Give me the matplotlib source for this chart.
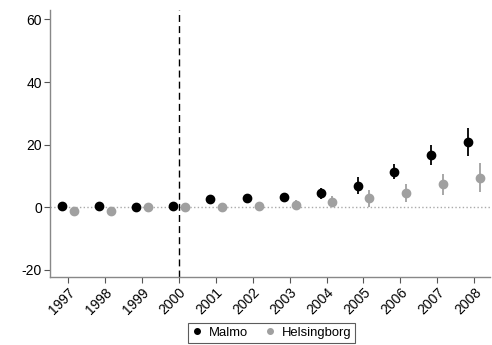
import matplotlib
matplotlib.use("Agg")
import matplotlib.pyplot as plt
from matplotlib.lines import Line2D
import numpy as np

plt.rcParams['font.family'] = ['Liberation Sans', 'DejaVu Sans']
plt.rcParams['axes.unicode_minus'] = False

years = np.arange(1997, 2009)
malmo = [0.5, 0.3, 0.0, 0.5, 2.6, 2.9, 3.2, 4.4, 6.8, 11.1, 16.6, 20.7]
malmo_lo = [0.5, 0.3, 0.0, 0.5, 2.1, 2.0, 1.8, 2.5, 4.1, 8.9, 13.4, 16.3]
malmo_hi = [0.5, 0.3, 0.0, 0.5, 3.1, 3.8, 4.6, 6.0, 9.6, 13.7, 19.8, 25.2]
hels = [-1.2, -1.2, 0.0, 0.0, 0.0, 0.3, 0.8, 1.6, 2.9, 4.5, 7.3, 9.2]
hels_lo = [-1.2, -1.2, 0.0, 0.0, -0.3, -0.8, -0.5, 0.0, 0.0, 1.6, 3.8, 4.8]
hels_hi = [-1.2, -1.2, 0.0, 0.0, 0.3, 1.5, 2.2, 3.5, 5.4, 7.3, 10.5, 14.0]

BLACK = 'black'
GREY = '#a0a0a0'

fig = plt.figure(figsize=(4.92, 3.45), dpi=100)
ax = fig.add_axes([0.102, 0.197, 0.894, 0.774])

ax.axhline(0, color='#aaaaaa', linestyle=':', linewidth=1, zorder=1)
ax.axvline(2000, color='black', linestyle=(0, (5, 3)), linewidth=1, zorder=1)

m = np.array(malmo)
h = np.array(hels)
ax.errorbar(years - 0.16, m, yerr=[m - np.array(malmo_lo), np.array(malmo_hi) - m],
            fmt='o', color=BLACK, ecolor=BLACK, elinewidth=1.3, markersize=6,
            capsize=0, zorder=3)
ax.errorbar(years + 0.16, h, yerr=[h - np.array(hels_lo), np.array(hels_hi) - h],
            fmt='o', color=GREY, ecolor=GREY, elinewidth=1.3, markersize=6,
            capsize=0, zorder=3)

ax.set_xlim(1996.51, 2008.43)
ax.set_ylim(-22.3, 63)
ax.set_yticks([-20, 0, 20, 40, 60])
ax.set_xticks(years)
ax.set_xticklabels([str(y) for y in years], rotation=45, ha='right', rotation_mode='anchor')
ax.tick_params(labelsize=10, color='#555555', length=4, width=0.8, pad=2)

for s in ['top', 'right']:
    ax.spines[s].set_visible(False)
for s in ['left', 'bottom']:
    ax.spines[s].set_color('#888888')
    ax.spines[s].set_linewidth(1)

handles = [Line2D([], [], marker='o', linestyle='none', color=BLACK, markersize=4),
           Line2D([], [], marker='o', linestyle='none', color=GREY, markersize=4)]
leg = fig.legend(handles, ['Malmo', 'Helsingborg'], loc='lower center',
                 bbox_to_anchor=(0.552, 0.006), borderaxespad=0, ncol=2, fontsize=9.4,
                 frameon=True, fancybox=False, edgecolor='#333333', handletextpad=0.5,
                 columnspacing=1.3, handlelength=0.8, borderpad=0.3)
leg.get_frame().set_linewidth(0.8)

fig.savefig('out.png', dpi=100)
